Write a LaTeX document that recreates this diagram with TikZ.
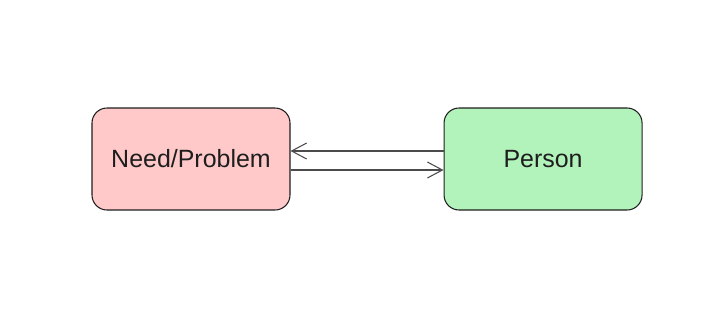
\documentclass[tikz,border=0pt]{standalone}
\usepackage{fontspec}
\setmainfont{Liberation Sans}
\usetikzlibrary{positioning,arrows.meta}

\definecolor{inkgray}{HTML}{1E1E1E}
\definecolor{needred}{HTML}{FFC9C9}
\definecolor{persongreen}{HTML}{B2F2BB}

\tikzset{
    card/.style={draw=inkgray, line width=0.6pt, rounded corners=0.3cm,
        minimum width=3.96cm, minimum height=2.04cm, text=inkgray,
        font=\fontsize{14.2}{17}\selectfont},
    flow/.style={draw=inkgray!80, line width=0.6pt,
        -{Straight Barb[length=0.3cm, width=0.32cm]}}
}

\begin{document}
\begin{tikzpicture}[node distance=3.06cm]

    \useasboundingbox (0,0) rectangle (14.48,-6.34);

    % Nodes
    \node (need) [card, fill=needred] at (3.82,-3.18) {Need/Problem};
    \node (person) [card, fill=persongreen, right=of need] {Person};

    % Arrows
    \draw[flow] ([yshift=0.16cm]person.west) -- ([yshift=0.16cm]need.east);
    \draw[flow] ([yshift=-0.22cm]need.east) -- ([yshift=-0.22cm]person.west);
\end{tikzpicture}
\end{document}
